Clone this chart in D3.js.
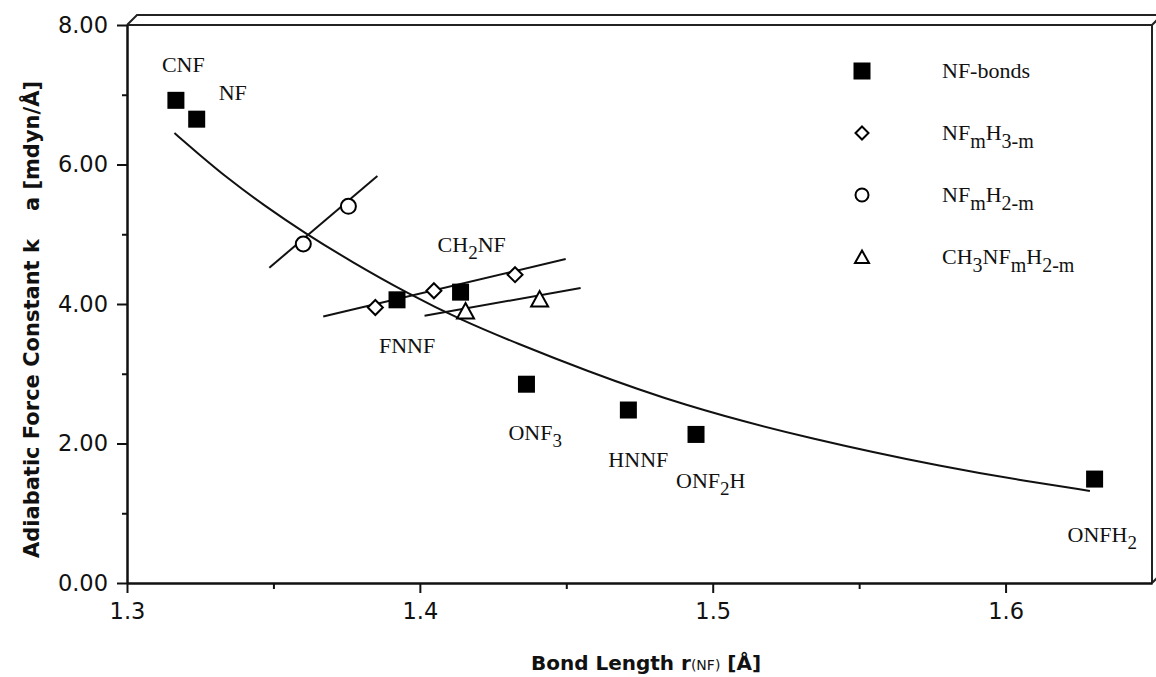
<!DOCTYPE html>
<html>
<head>
<meta charset="utf-8">
<script src="https://d3js.org/d3.v7.min.js"></script>
<style>
  body { margin: 0; background: #fff; }
  .tick text { font-family: "DejaVu Sans", Verdana, sans-serif; font-size: 22.5px; fill: #111; }
  .lbl { font-family: "Liberation Serif", "Times New Roman", serif; font-size: 22px; fill: #111; }
  .ttl { font-family: "DejaVu Sans", Verdana, sans-serif; font-size: 20px; font-weight: bold; fill: #111; }
</style>
</head>
<body>
<script>
// NF bonds (filled squares)
var bondNames = ["CNF", "NF", "FNNF", "CH_{2}NF", "ONF_{3}", "HNNF", "ONF_{2}H", "ONFH_{2}"];
var bondR = [1.3167, 1.3238, 1.3922, 1.4139, 1.4364, 1.4712, 1.4943, 1.6304];
var bondK = [6.92, 6.65, 4.06, 4.17, 2.85, 2.48, 2.13, 1.49];

// NFmH3-m (diamonds)
var nfh3R = [1.3848, 1.4048, 1.4325];
var nfh3K = [3.95, 4.19, 4.42];

// NFmH2-m (circles)
var nfh2R = [1.3602, 1.3756];
var nfh2K = [4.86, 5.40];

// CH3NFmH2-m (triangles)
var ch3R = [1.4156, 1.4409];
var ch3K = [3.90, 4.07];

// trend curve through the NF bonds
var fitR = [1.3162, 1.3242, 1.3344, 1.3469, 1.3606, 1.3765, 1.3959, 1.4141, 1.4335, 1.4551, 1.4893, 1.5337, 1.5815, 1.6043, 1.6288];
var fitK = [6.45, 6.16, 5.80, 5.41, 5.02, 4.61, 4.15, 3.77, 3.43, 3.07, 2.55, 2.06, 1.64, 1.48, 1.32];

// short regression lines (end points)
var nfh3LineR = [1.3670, 1.4498];
var nfh3LineK = [3.82, 4.645];
var nfh2LineR = [1.3486, 1.3855];
var nfh2LineK = [4.52, 5.835];
var ch3LineR = [1.4016, 1.4549];
var ch3LineK = [3.83, 4.23];

// ticks
var xTicks = [1.3, 1.4, 1.5, 1.6];
var xMinor = [1.35, 1.45, 1.55];
var yTicks = [0, 2, 4, 6, 8];
var yMinor = [1, 3, 5, 7];

// legend
var legendNames = ["NF-bonds", "NF_{m}H_{3-m}", "NF_{m}H_{2-m}", "CH_{3}NF_{m}H_{2-m}"];
var legendShapes = ["square", "diamond", "circle", "triangle"];

var width = 1156, height = 677;

var x = d3.scaleLinear().domain([1.3, 1.65]).range([127, 1152]);
var y = d3.scaleLinear().domain([0, 8]).range([583, 25]);

var svg = d3.select("body").append("svg")
    .attr("width", width)
    .attr("height", height);

// writes "CH_{2}NF" style text with lowered subscripts
function richText(sel, str, subSize, drop) {
  var parts = str.split(/_\{([^}]*)\}/);
  var low = false;
  parts.forEach(function(p, i) {
    var isSub = i % 2 == 1;
    if (p === "") return;
    var t = sel.append("tspan").text(p);
    if (isSub && !low) { t.attr("dy", drop).style("font-size", subSize + "px"); low = true; }
    else if (isSub) { t.style("font-size", subSize + "px"); }
    else if (low) { t.attr("dy", -drop); low = false; }
  });
}

// 3D-ish frame: back edge and top/right sides
var x0 = x.range()[0], x1 = x.range()[1], y0 = y.range()[0], y1 = y.range()[1];
var frame = svg.append("g").attr("fill", "none").attr("stroke", "#222").attr("stroke-width", 2);
frame.append("path").attr("d", "M" + x0 + "," + y1 + "L" + (x0 + 10) + "," + (y1 - 10) + "L" + (x1 + 10) + "," + (y1 - 10));
frame.append("path").attr("d", "M" + x1 + "," + y1 + "L" + (x1 + 10) + "," + (y1 - 10));
frame.append("path").attr("d", "M" + x1 + "," + y0 + "L" + (x1 + 10) + "," + (y0 - 10));
frame.append("path").attr("d", "M" + x0 + "," + y1 + "H" + x1 + "V" + y0);

// axes
var fmt2 = d3.format(".2f");
svg.append("g").attr("transform", "translate(" + x0 + ",0)")
    .call(d3.axisLeft(y).tickValues(yTicks).tickFormat(fmt2).tickSize(10).tickSizeOuter(0).tickPadding(9));
svg.append("g").attr("transform", "translate(" + x0 + ",0)")
    .call(d3.axisLeft(y).tickValues(yMinor).tickFormat("").tickSize(5).tickSizeOuter(0));
svg.append("g").attr("transform", "translate(0," + y0 + ")")
    .call(d3.axisBottom(x).tickValues(xTicks).tickFormat(d3.format(".1f")).tickSize(10).tickSizeOuter(0).tickPadding(10));
svg.append("g").attr("transform", "translate(0," + y0 + ")")
    .call(d3.axisBottom(x).tickValues(xMinor).tickFormat("").tickSize(6).tickSizeOuter(0));
svg.selectAll(".domain, .tick line").attr("stroke", "#111").attr("stroke-width", 2);
svg.selectAll(".tick text").attr("font-size", null).attr("font-family", null);

// axis titles
var xt = svg.append("text").attr("class", "ttl")
    .attr("x", 646).attr("y", 670).attr("text-anchor", "middle");
xt.append("tspan").text("Bond Length r");
xt.append("tspan").text("(NF)").style("font-size", "14px").style("font-weight", "normal");
xt.append("tspan").text(" [Å]");

var yt = svg.append("text").attr("class", "ttl")
    .attr("transform", "translate(39,558) rotate(-90)").style("font-size", "21px");
yt.append("tspan").text("Adiabatic Force Constant k");
yt.append("tspan").attr("dx", 28).text("a");
yt.append("tspan").text(" [mdyn/Å]");

// curves
var line = d3.line().x(function(d) { return x(d[0]); }).y(function(d) { return y(d[1]); });
var ink = svg.append("g").attr("fill", "none").attr("stroke", "#111").attr("stroke-width", 2);
ink.append("path").attr("d", line.curve(d3.curveBasis)(d3.zip(fitR, fitK)));
line.curve(d3.curveLinear);
ink.append("path").attr("d", line(d3.zip(nfh3LineR, nfh3LineK)));
ink.append("path").attr("d", line(d3.zip(nfh2LineR, nfh2LineK)));
ink.append("path").attr("d", line(d3.zip(ch3LineR, ch3LineK)));

// marker drawing
function marker(g, shape, s) {
  if (shape == "square") {
    g.append("rect").attr("x", -s).attr("y", -s).attr("width", 2 * s).attr("height", 2 * s)
      .attr("fill", "#000");
  } else if (shape == "diamond") {
    g.append("path").attr("d", "M0," + (-s) + "L" + s + ",0L0," + s + "L" + (-s) + ",0Z")
      .attr("fill", "#fff").attr("stroke", "#000").attr("stroke-width", 2);
  } else if (shape == "circle") {
    g.append("circle").attr("r", s)
      .attr("fill", "#fff").attr("stroke", "#000").attr("stroke-width", 2);
  } else {
    g.append("path").attr("d", "M0," + (-s) + "L" + (s + 0.5) + "," + (s - 0.5) + "L" + (-s - 0.5) + "," + (s - 0.5) + "Z")
      .attr("fill", "#fff").attr("stroke", "#000").attr("stroke-width", 2);
  }
}

function plotSeries(rs, ks, shape, s) {
  d3.zip(rs, ks).forEach(function(d) {
    var g = svg.append("g").attr("transform", "translate(" + x(d[0]) + "," + y(d[1]) + ")");
    marker(g, shape, s);
  });
}

plotSeries(nfh3R, nfh3K, "diamond", 7.5);
plotSeries(nfh2R, nfh2K, "circle", 7.5);
plotSeries(ch3R, ch3K, "triangle", 8);
plotSeries(bondR, bondK, "square", 8.5);

// molecule labels, placed by hand around each square
var labelOffset = {
  "CNF": [-14, -28], "NF": [22, -19], "FNNF": [-18, 53], "CH_{2}NF": [-23, -40],
  "ONF_{3}": [-18, 56], "HNNF": [-20, 57], "ONF_{2}H": [-20, 54], "ONFH_{2}": [-27, 63]
};
bondNames.forEach(function(n, i) {
  var o = labelOffset[n];
  var t = svg.append("text").attr("class", "lbl")
      .attr("x", x(bondR[i]) + o[0]).attr("y", y(bondK[i]) + o[1]);
  richText(t, n, 19, 7);
});

// legend
legendNames.forEach(function(n, i) {
  var cy = 71 + i * 62;
  var g = svg.append("g").attr("transform", "translate(862," + cy + ")");
  marker(g, legendShapes[i], legendShapes[i] == "square" ? 8.5 : 6.5);
  var t = svg.append("text").attr("class", "lbl").attr("x", 942).attr("y", cy + 7);
  richText(t, n, 20, 8);
});
</script>
</body>
</html>
